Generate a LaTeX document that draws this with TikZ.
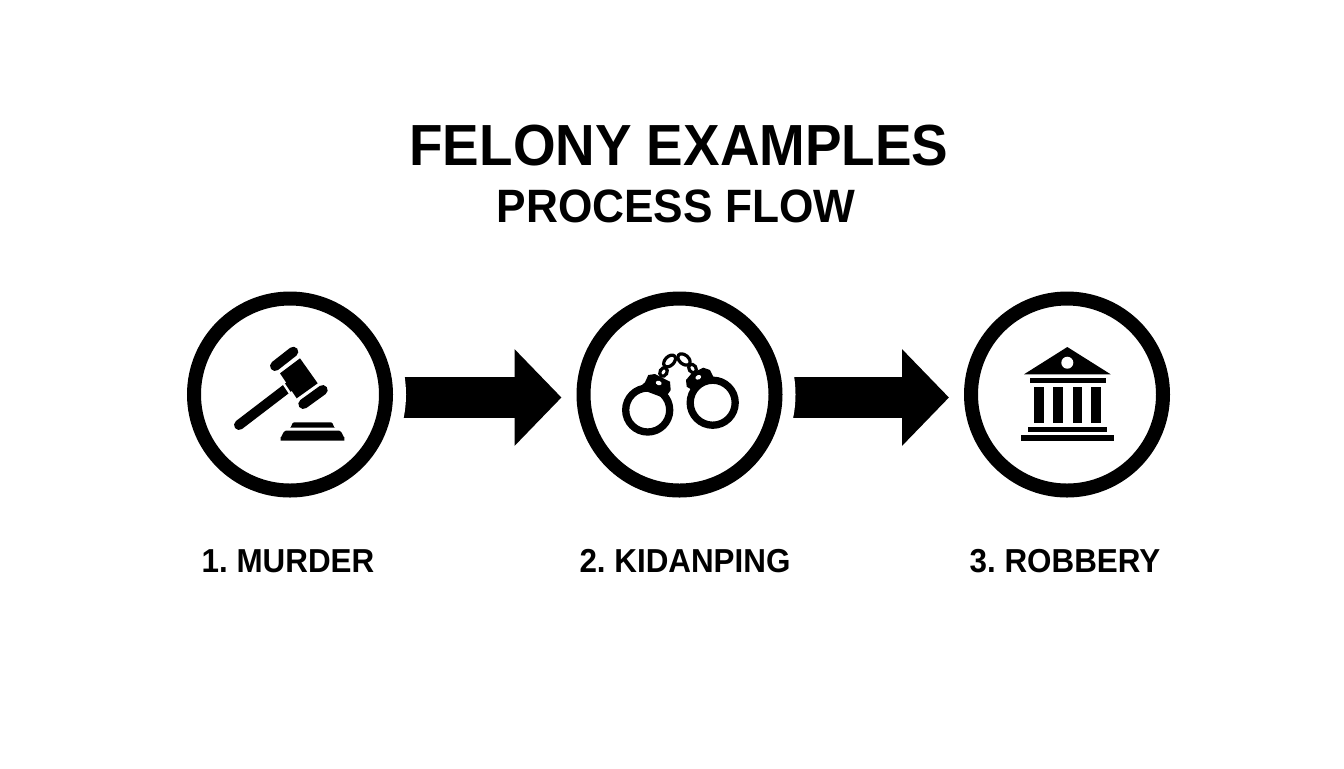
\documentclass[tikz,border=0pt]{standalone}
\usepackage{fontspec}
\setmainfont[FakeStretch=0.945]{Liberation Sans}
\usetikzlibrary{arrows.meta,backgrounds}

\begin{document}
\frenchspacing
\begin{tikzpicture}[x=0.5pt,y=-0.5pt,
  ring node/.style={circle,draw=black,fill=white,line width=7pt,minimum size=96pt,inner sep=0pt,
    preaction={draw=white,line width=20pt}},
  block arrow/.style={line width=20.5pt,-{Triangle[length=23.5pt,width=47pt]},shorten >=7.5pt},
  title node/.style={font=\bfseries\fontsize{29}{34}\selectfont},
  sub node/.style={font=\bfseries\fontsize{23.4}{28}\selectfont},
  step node/.style={font=\bfseries\fontsize{16.6}{20}\selectfont},
  bar/.style={line width=5pt,line cap=round},
  cuff/.style={draw=black,line width=3.65pt},
  link/.style={draw=black,line width=1.6pt,fill=white}]

  \useasboundingbox (0,0) rectangle (1344,768);

  \node[title node] (title) at (679,146) {FELONY EXAMPLES};
  \node[sub node] (sub) at (676,206) {PROCESS FLOW};

  \node[ring node] (c1) at (290,394.5) {};
  \node[ring node] (c2) at (679.5,394.5) {};
  \node[ring node] (c3) at (1067,394.5) {};

  \node[step node] (l1) at (288,561) {1. MURDER};
  \node[step node] (l2) at (685,561) {2. KIDANPING};
  \node[step node] (l3) at (1065,561) {3. ROBBERY};

  \begin{scope}[on background layer]
    \path[block arrow]
      ([yshift=-1.5pt]c1.east) edge ([yshift=-1.5pt]c2.west)
      ([yshift=-1.5pt]c2.east) edge ([yshift=-1.5pt]c3.west);
  \end{scope}

  % gavel
  \draw[bar] (239,425) -- (290,386);
  \draw[white,line width=1.2pt] (277.5,374.6) -- (294.5,400);
  \fill (280,373.3) -- (300,358.3) -- (317.7,383.3) -- (296.7,398.3) -- cycle;
  \draw[bar] (275,366) -- (293.3,351.7);
  \draw[bar] (303.3,404) -- (322.7,390);
  \fill (290,427.7) to[out=-70,in=180] (294,422.3) -- (331,422.3) to[out=0,in=-110] (335,427.7) -- cycle;
  \fill (280.7,440.7) -- (280.7,437) to[out=-90,in=180] (286,430.5) -- (339,430.5) to[out=0,in=-90] (344.3,437) -- (344.3,440.7) -- cycle;

  % handcuffs
  \draw[link] (663.5,372) ellipse [x radius=4.5,y radius=3.5,rotate=60];
  \draw[link] (669.6,361) ellipse [x radius=7,y radius=4.5,rotate=45];
  \draw[link] (684,359.5) ellipse [x radius=7,y radius=4.5,rotate=-40];
  \draw[link] (692.5,368.5) ellipse [x radius=4.5,y radius=3.5,rotate=-55];
  \fill (638.3,388.3) -- (645,382.3) -- (648.3,375) -- (655,374) -- (670,381.7) -- (670.7,390) -- (665,398.3) -- cycle;
  \fill (686,380) -- (691.7,373.3) -- (703.3,367.7) -- (710,370) -- (713.3,376.7) -- (695,391.7) -- (686.7,386.7) -- cycle;
  \fill[white] (658.7,383) ellipse [x radius=3,y radius=2.2,rotate=-20];
  \fill[white] (698.3,377.3) ellipse [x radius=3,y radius=2.2,rotate=25];
  \draw[cuff] (647.7,410) circle [radius=22];
  \draw[cuff] (712.7,402.7) circle [radius=22.5];

  % bank
  \fill (1067.3,347) -- (1110.7,374.3) -- (1024,374.3) -- cycle;
  \fill[white] (1067.3,362.7) circle [radius=6];
  \fill (1030,377.7) rectangle (1106,383);
  \foreach \colx in {1034.3,1053.3,1072.7,1091.3}
    \fill (\colx,386.7) rectangle ++(9.4,36.3);
  \fill (1028.3,426.7) rectangle (1107,432);
  \fill (1021.3,435.3) rectangle (1113.7,440.7);

\end{tikzpicture}
\end{document}
